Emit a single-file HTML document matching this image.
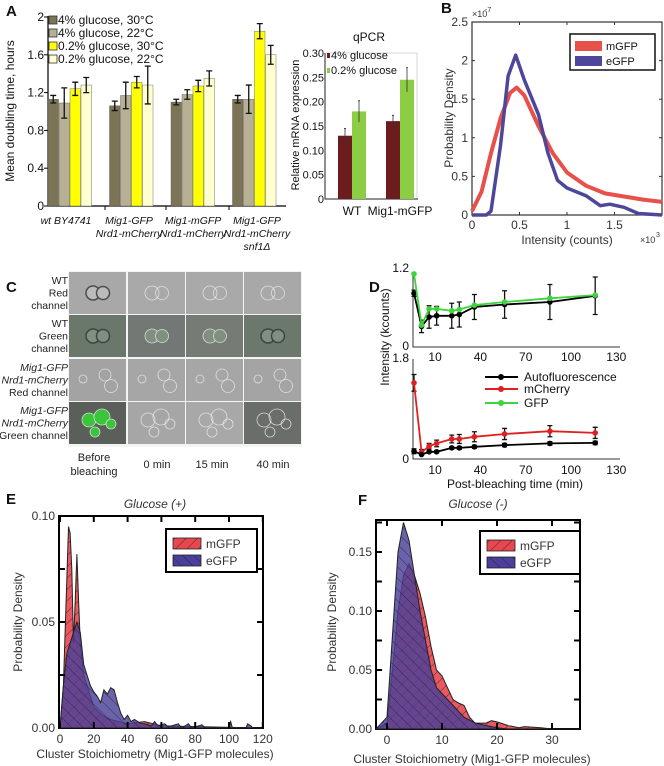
<!DOCTYPE html>
<html><head><meta charset="utf-8">
<style>
html,body{margin:0;padding:0;background:#fff;}
svg{display:block;font-family:"Liberation Sans",Arial,sans-serif;}
</style></head>
<body>
<svg id="fig" width="664" height="766" viewBox="0 0 664 766" xmlns="http://www.w3.org/2000/svg">
<defs>
<pattern id="hatchR" patternUnits="userSpaceOnUse" width="8" height="8" patternTransform="rotate(45)"><line x1="0" y1="0" x2="0" y2="8" stroke="#222" stroke-width="0.8"/></pattern>
<pattern id="hatchB" patternUnits="userSpaceOnUse" width="8" height="8" patternTransform="rotate(-45)"><line x1="0" y1="0" x2="0" y2="8" stroke="#222" stroke-width="0.8"/></pattern>
</defs>
</svg>
<script>
// ---------- Panel A data ----------
const aGroups = ["wt BY4741","Mig1-GFP Nrd1-mCherry","Mig1-mGFP Nrd1-mCherry","Mig1-GFP Nrd1-mCherry snf1\u0394"];
const aSeries = ["4% glucose, 30\u00b0C","4% glucose, 22\u00b0C","0.2% glucose, 30\u00b0C","0.2% glucose, 22\u00b0C"];
const aVal4_30 = [1.13,1.06,1.10,1.13];
const aVal4_22 = [1.09,1.17,1.18,1.13];
const aVal02_30 = [1.24,1.31,1.27,1.85];
const aVal02_22 = [1.28,1.28,1.35,1.60];
const aErr4_30 = [0.04,0.05,0.03,0.04];
const aErr4_22 = [0.16,0.14,0.05,0.15];
const aErr02_30 = [0.07,0.06,0.06,0.08];
const aErr02_22 = [0.08,0.20,0.08,0.10];
const aTicks = [0,0.4,0.8,1.2,1.6,2];
// ---------- qPCR data ----------
const qCats = ["WT","Mig1-mGFP"];
const q4 = [0.13,0.16];
const q02 = [0.18,0.245];
const q4err = [0.015,0.012];
const q02err = [0.022,0.025];
const qTicks = [0,0.05,0.10,0.15,0.20,0.25,0.30];
// ---------- Panel B data ----------
const bmX = [0,0.1,0.2,0.3,0.4,0.47,0.55,0.7,0.85,1.0,1.2,1.4,1.6,1.8,2.0];
const bmY = [0.05,0.3,0.8,1.25,1.58,1.65,1.55,1.15,0.8,0.55,0.38,0.28,0.24,0.2,0.17];
const beX = [0,0.15,0.2,0.3,0.38,0.46,0.55,0.7,0.8,0.9,1.0,1.2,1.35,1.45,1.6,1.75,2.0];
const beY = [0,0,0.05,0.9,1.8,2.07,1.75,1.3,0.8,0.45,0.35,0.25,0.12,0.14,0.1,0.02,0];
const bXTicks = [0,0.5,1,1.5];
const bYTicks = [0,0.5,1,1.5,2,2.5];
// ---------- Panel D data ----------
const dTimes = [0,5,10,15,25,30,40,60,90,120];
const dUpGFP = [1.17,0.35,0.61,0.61,0.58,0.60,0.67,0.72,0.78,0.83];
const dUpAuto = [0.86,0.33,0.48,0.50,0.50,0.52,0.64,0.68,0.72,0.82];
const dUpErr = [0.05,0.1,0.18,0.15,0.2,0.2,0.2,0.22,0.28,0.3];
const dLoCherry = [1.37,0.12,0.23,0.28,0.36,0.36,0.40,0.45,0.50,0.47];
const dLoAuto = [0.14,0.08,0.13,0.13,0.20,0.20,0.22,0.25,0.28,0.29];
const dLoErr = [0.15,0.05,0.05,0.06,0.07,0.08,0.09,0.1,0.1,0.1];
const dXTicks = [10,40,70,100,130];
// ---------- Panel E data ----------
const emX = [0,2,4,5,6,7,8,9,10,11,12,14,16,20,25,30,40,50,60,120];
const emY = [0,0.02,0.07,0.095,0.092,0.075,0.04,0.06,0.082,0.06,0.04,0.025,0.02,0.01,0.006,0.004,0.002,0.003,0.001,0];
const eeX = [0,2,4,6,8,10,12,14,16,18,20,22,24,26,28,30,32,34,36,38,40,42,44,46,48,50,54,56,58,62,64,70,72,76,78,84,86,100,101,102,110,111,113,114,120];
const eeY = [0,0.02,0.035,0.04,0.045,0.05,0.045,0.03,0.025,0.02,0.017,0.015,0.012,0.018,0.016,0.019,0.018,0.012,0.007,0.004,0.006,0.003,0.004,0.003,0.002,0.002,0.001,0.003,0.001,0.002,0.0005,0.002,0,0.002,0,0.0015,0,0,0.003,0,0,0.002,0.001,0,0];
const eXTicks = [0,20,40,60,80,100,120];
const eYTicks = [0,0.05,0.10];
// ---------- Panel F data ----------
const feX = [-2,0,1,2,3,4,5,6,7,8,9,10,12,14,16,18,20,22,35];
const feY = [0,0.01,0.08,0.15,0.175,0.16,0.13,0.1,0.075,0.05,0.035,0.03,0.02,0.01,0.005,0.003,0.001,0,0];
const fmX = [-2,0,1,2,3,4,5,6,7,8,9,10,11,12,13,14,15,16,18,19,20,22,24,25,28,30,35];
const fmY = [0,0.005,0.05,0.1,0.13,0.14,0.13,0.115,0.095,0.07,0.05,0.045,0.035,0.025,0.022,0.02,0.01,0.005,0.005,0.007,0.006,0.003,0.001,0.002,0.001,0,0];
const fXTicks = [0,10,20,30];
const fYTicks = [0,0.05,0.10,0.15];

const NS = "http://www.w3.org/2000/svg";
const svg = document.getElementById('fig');
function mk(tag, attrs, parent){
  const el = document.createElementNS(NS, tag);
  for (const k in attrs) el.setAttribute(k, attrs[k]);
  (parent||svg).appendChild(el);
  return el;
}
function txt(s, x, y, size, parent, extra){
  const a = {x:x, y:y, 'font-size':size, fill:'#111'};
  if (extra) for (const k in extra) a[k]=extra[k];
  const t = mk('text', a, parent);
  t.textContent = s;
  return t;
}
function grp(){ return mk('g', {}); }
let el;

// ================= PANEL A =================
const gA = grp();


el = txt('A', 6, 16, 15, gA, {'font-weight':'bold'});


const yA = v => 206 - v*94.5;
el = mk('line', {x1:48, y1:16, x2:48, y2:206, stroke:'#000', 'stroke-width':1.2}, gA);


el = mk('line', {x1:48, y1:206, x2:286, y2:206, stroke:'#000', 'stroke-width':1.2}, gA);


aTicks.forEach(v => {
  const t = txt(String(v), 44, yA(v)+4, 12, gA, {'text-anchor':'end'});
  
  
  const l = mk('line', {x1:44, y1:yA(v), x2:48, y2:yA(v), stroke:'#000'}, gA);
  
  
});
[109,170,233].forEach(x => {
  const l = mk('line', {x1:x-4, y1:206, x2:x-4, y2:210, stroke:'#000'}, gA);
  
  
});
el = txt('Mean doubling time, hours', 14, 111, 12, gA, {'text-anchor':'middle', transform:'rotate(-90 14 111)'});


const aColors = ['#7c7456','#b8b095','#ffff00','#ffffd0'];
const aVals = [aVal4_30, aVal4_22, aVal02_30, aVal02_22];
const aErrs = [aErr4_30, aErr4_22, aErr02_30, aErr02_22];
const aGroupX = i => 48 + i*61.5;
aGroups.forEach((g, gi) => {
  aVals.forEach((ser, si) => {
    const x = aGroupX(gi) + si*11;
    const v = ser[gi], e = aErrs[si][gi];
    const b = mk('rect', {x:x, y:yA(v), width:10.5, height:yA(0)-yA(v), fill:aColors[si], stroke:'#555', 'stroke-width':0.4}, gA);
    
    
    const cx = x+5.25;
    const eb = mk('path', {d:`M${cx} ${yA(v+e)}V${yA(v-e)}M${cx-3} ${yA(v+e)}H${cx+3}M${cx-3} ${yA(v-e)}H${cx+3}`, stroke:'#111', 'stroke-width':1.3, fill:'none'}, gA);
    
    
  });
});
const aLabelLines = [["wt BY4741"],["Mig1-GFP","Nrd1-mCherry"],["Mig1-mGFP","Nrd1-mCherry"],["Mig1-GFP","Nrd1-mCherry","snf1\u0394"]];
const aLabelCx = [66,129,193,257];
aLabelLines.forEach((lines, i) => {
  lines.forEach((s, j) => {
    const t = txt(s, aLabelCx[i], 224 + j*13, 10.5, gA, {'text-anchor':'middle','font-style':'italic'});
    
    
  });
});
aSeries.forEach((s, i) => {
  const y = 14 + i*13;
  const r = mk('rect', {x:49, y:y+2, width:8, height:8, fill:aColors[i], stroke:'#333', 'stroke-width':0.8}, gA);
  
  
  const t = txt(s, 58, y+10, 12, gA);
  
  
});

// ================= qPCR =================
const gQ = grp();


const yQ = v => 199 - v*486.7;
el = txt('qPCR', 369, 41, 12, gQ, {'text-anchor':'middle'});


el = mk('rect', {x:325, y:yQ(0.30), width:92, height:yQ(0)-yQ(0.30), fill:'none', stroke:'#bbb', 'stroke-width':0.6}, gQ);


el = mk('path', {d:`M325 ${yQ(0.30)}V199H418`, stroke:'#222', 'stroke-width':1, fill:'none'}, gQ);


qTicks.forEach(v => {
  const t = txt(v===0?'0':v.toFixed(2), 324, yQ(v)+4, 11, gQ, {'text-anchor':'end'});
  
  
});
el = txt('Relative mRNA expression', 299, 125, 11, gQ, {'text-anchor':'middle', transform:'rotate(-90 299 125)'});


const qX = [338,386];
qCats.forEach((c, i) => {
  const b1 = mk('rect', {x:qX[i], y:yQ(q4[i]), width:14, height:yQ(0)-yQ(q4[i]), fill:'#6b1d1d'}, gQ);
  
  
  const b2 = mk('rect', {x:qX[i]+14, y:yQ(q02[i]), width:14, height:yQ(0)-yQ(q02[i]), fill:'#8ccd45'}, gQ);
  
  
  const e1 = mk('path', {d:`M${qX[i]+7} ${yQ(q4[i]+q4err[i])}v${q4err[i]*2*486.7}M${qX[i]+6} ${yQ(q4[i]+q4err[i])}h2`, stroke:'#333', 'stroke-width':0.8}, gQ);
  
  
  const e2 = mk('path', {d:`M${qX[i]+21} ${yQ(q02[i]+q02err[i])}v${q02err[i]*2*486.7}M${qX[i]+20} ${yQ(q02[i]+q02err[i])}h2`, stroke:'#333', 'stroke-width':0.8}, gQ);
  
  
  const t = txt(c, qX[i]+14, 215, 12, gQ, {'text-anchor':'middle'});
  
  
});
[['4% glucose','#6b1d1d',59],['0.2% glucose','#8ccd45',74]].forEach(l => {
  const r = mk('rect', {x:327, y:l[2]-6, width:3, height:5, fill:l[1]}, gQ);
  
  
  const t = txt(l[0], 331, l[2], 11, gQ);
  
  
});

// ================= PANEL B =================
const gB = grp();


el = txt('B', 441, 13, 15, gB, {'font-weight':'bold'});


const xB = v => 472 + v*95;
const yB = v => 215 - v*77.2;
el = mk('rect', {x:472, y:22, width:190, height:193, fill:'none', stroke:'#333', 'stroke-width':1.2}, gB);


bXTicks.forEach(v => {
  const t = txt(String(v), xB(v), 229, 12, gB, {'text-anchor':'middle', fill:'#333'});
  
  
  const l = mk('path', {d:`M${xB(v)} 215v-3M${xB(v)} 22v3`, stroke:'#333'}, gB);
  
  
});
bYTicks.forEach(v => {
  const t = txt(String(v), 468, yB(v)+4, 12, gB, {'text-anchor':'end', fill:'#333'});
  
  
  const l = mk('path', {d:`M472 ${yB(v)}h3M662 ${yB(v)}h-3`, stroke:'#333'}, gB);
  
  
});
el = txt('\u00d710', 472, 17, 9, gB, {fill:'#333'});


el = txt('-7', 485, 12, 7, gB, {fill:'#333'});


el = txt('\u00d710', 640, 243, 9, gB, {fill:'#333'});


el = txt('3', 656, 237, 7, gB, {fill:'#333'});


el = txt('Intensity (counts)', 567, 244, 12, gB, {'text-anchor':'middle', fill:'#333'});


el = txt('Probability Density', 453, 118, 12, gB, {'text-anchor':'middle', fill:'#333', transform:'rotate(-90 453 118)'});


const pathFrom = (xs, ys, fx, fy) => xs.map((x,i)=>(i?'L':'M')+fx(x).toFixed(1)+' '+fy(ys[i]).toFixed(1)).join('');
el = mk('path', {d:pathFrom(bmX,bmY,xB,yB), fill:'none', stroke:'#e8504a', 'stroke-width':4, 'stroke-linejoin':'round'}, gB);


el = mk('path', {d:pathFrom(beX,beY,xB,yB), fill:'none', stroke:'#4d469a', 'stroke-width':3.5, 'stroke-linejoin':'round'}, gB);


el = mk('rect', {x:570, y:34, width:85, height:36, fill:'#fff', stroke:'#111', 'stroke-width':1.5}, gB);


[['mGFP','#e8504a',46],['eGFP','#4d469a',61]].forEach(l => {
  const r = mk('rect', {x:575, y:l[2]-5, width:27, height:10, fill:l[1]}, gB);
  
  
  const t = txt(l[0], 606, l[2]+4, 11, gB);
  
  
});

// ================= PANEL C =================
const gC = grp();


el = txt('C', 6, 292, 15, gC, {'font-weight':'bold'});


const cRowY = [272,315,359,402];
const cColX = [69,128,186,244];
const cBg = [['#a8a8a8','#a9a9a9','#a9a9a9','#a8a8a8'],['#6c776c','#747874','#767b76','#6d786d'],['#a3a3a3','#a6a6a6','#a6a6a6','#a4a4a4'],['#5a5f5a','#a6a6a6','#a8a8a8','#6a6e6a']];
el = mk('rect', {x:68, y:271, width:234, height:176, fill:'#f4f4f4'}, gC);
cRowY.forEach((y, r) => {
  cColX.forEach((x, c) => {
    const cell = mk('rect', {x:x, y:y, width:57, height:42, fill:cBg[r][c]}, gC);
    
    
    const dark = (c===0 && r<2) || (r===1 && c===3);
    const sw = dark ? 1.5 : 0.8;
    const fillG = (r===3 && c===0) ? '#3cc43c' : (r===1 ? '#7f907f' : (r===0 && c===0 ? '#bbb' : 'none'));
    const cells = r<2 ? [[24,21,7],[34,21,6.5]] : (r===2 ? [[14,20,4],[36,16,6],[42,27,6.5]] : [[20,18,7],[33,15,8],[42,22,5],[26,30,5]]);
    cells.forEach(p => {
      const ci = mk('circle', {cx:x+p[0], cy:y+p[1], r:p[2], fill:fillG, stroke:dark?'#333':'#eee', 'stroke-width':sw, 'stroke-opacity':0.8}, gC);
      
      
    });
  });
});
const cRowLabels = [[['WT',false],['Red',false],['channel',false]],[['WT',false],['Green',false],['channel',false]],[['Mig1-GFP',true],['Nrd1-mCherry',true],['Red channel',false]],[['Mig1-GFP',true],['Nrd1-mCherry',true],['Green channel',false]]];
cRowLabels.forEach((lines, r) => {
  lines.forEach((l, j) => {
    const t = txt(l[0], 68, cRowY[r]+12+j*12.5, 10.5, gC, {'text-anchor':'end','font-style':l[1]?'italic':'normal', fill:'#222'});
    
    
  });
});
[['Before',94,461],['bleaching',94,475],['0 min',157,468],['15 min',212,468],['40 min',273,468]].forEach(l => {
  const t = txt(l[0], l[1], l[2], 11, gC, {'text-anchor':'middle', fill:'#222'});
  
  
});

// ================= PANEL D =================
const gD = grp();


el = txt('D', 369, 292, 15, gD, {'font-weight':'bold'});


const xD = t => 414 + t*1.51;
const yDu = v => 347 - v*62.5;
const yDl = v => 459 - v*55.6;
el = mk('path', {d:'M413 272V347H620M413 359V459H620', stroke:'#333', fill:'none', 'stroke-width':1}, gD);


[['1.2',272],['0',350],['1.8',362],['0',463]].forEach(l => {
  const t = txt(l[0], 409, l[1], 12, gD, {'text-anchor':'end'});
  
  
});
dXTicks.forEach(v => {
  const t1 = txt(String(v), xD(v)+6, 361, 12, gD, {'text-anchor':'middle'});
  
  
  const t2 = txt(String(v), xD(v)+6, 474, 12, gD, {'text-anchor':'middle'});
  
  
});
el = txt('Post-bleaching time (min)', 515, 488, 12, gD, {'text-anchor':'middle'});


el = txt('Intensity (kcounts)', 389, 337, 12, gD, {'text-anchor':'middle', transform:'rotate(-90 389 337)'});


function dSeries(vals, errs, yf, color, name){
  dTimes.forEach((t,i) => {
    const x = xD(t), v = vals[i], e = errs[i];
    const eb = mk('path', {d:`M${x} ${yf(v+e)}V${yf(Math.max(0,v-e))}M${x-2.5} ${yf(v+e)}h5M${x-2.5} ${yf(Math.max(0,v-e))}h5`, stroke:'#111', 'stroke-width':1.3}, gD);
    
    
  });
  const p = mk('path', {d:pathFrom(dTimes, vals, xD, yf), stroke:color, 'stroke-width':1.8, fill:'none'}, gD);
  
  
  dTimes.forEach((t,i) => {
    const c = mk('circle', {cx:xD(t), cy:yf(vals[i]), r:2.8, fill:color}, gD);
    
    
  });
}
dSeries(dUpAuto, dUpErr, yDu, '#000', 'd-upper-autofluorescence');
dSeries(dUpGFP, dUpErr.map(()=>0), yDu, '#3dd43d', 'd-upper-gfp');
dSeries(dLoCherry, dLoErr, yDl, '#e02020', 'd-lower-mcherry');
dSeries(dLoAuto, dLoErr.map(e=>e*0.3), yDl, '#000', 'd-lower-autofluorescence');
[['Autofluorescence','#000',377],['mCherry','#e02020',389],['GFP','#3dd43d',403]].forEach(l => {
  const ln = mk('line', {x1:485, y1:l[2], x2:518, y2:l[2], stroke:l[1], 'stroke-width':2}, gD);
  
  
  const c = mk('circle', {cx:501, cy:l[2], r:3, fill:l[1]}, gD);
  
  
  const t = txt(l[0], 524, l[2]+4, 12, gD);
  
  
});

// ================= PANELS E & F =================
function areaPath(xs, ys, fx, fy){
  return pathFrom(xs, ys, fx, fy) + `L${fx(xs[xs.length-1])} ${fy(0)}L${fx(xs[0])} ${fy(0)}Z`;
}
function densityPanel(g, pfx, fx, fy, box, xt, yt, ytFmt, redX, redY, blueX, blueY, legend, minorY){
  const fr = mk('rect', {x:box[0], y:box[1], width:box[2]-box[0], height:box[3]-box[1], fill:'none', stroke:'#000', 'stroke-width':2}, g);
  
  
  const red = mk('path', {d:areaPath(redX, redY, fx, fy), fill:'#e8474f', 'fill-opacity':0.9, stroke:'#222', 'stroke-width':1}, g);
  
  
  const redH = mk('path', {d:areaPath(redX, redY, fx, fy), fill:'url(#hatchR)', stroke:'none'}, g);
  
  
  const blue = mk('path', {d:areaPath(blueX, blueY, fx, fy), fill:'#4a3f9a', 'fill-opacity':0.82, stroke:'#222', 'stroke-width':1}, g);
  
  
  const blueH = mk('path', {d:areaPath(blueX, blueY, fx, fy), fill:'url(#hatchB)', stroke:'none'}, g);
  
  
  xt.forEach(v => {
    const t = txt(String(v), fx(v), box[3]+15, 12, g, {'text-anchor':'middle', fill:'#333'});
    
    
    const l = mk('path', {d:`M${fx(v)} ${box[3]}v-6M${fx(v)} ${box[1]}v6`, stroke:'#000', 'stroke-width':2}, g);
    
    
  });
  yt.forEach(v => {
    const t = txt(ytFmt(v), box[0]-4, fy(v)+4, 12, g, {'text-anchor':'end', fill:'#333'});
    
    
  });
  minorY.forEach(v => {
    const l = mk('path', {d:`M${box[0]} ${fy(v)}h6M${box[2]} ${fy(v)}h-6`, stroke:'#000', 'stroke-width':2}, g);
    
    
  });
  const lb = mk('rect', {x:legend[0], y:legend[1], width:legend[2], height:43, fill:'#fff', stroke:'#000', 'stroke-width':2}, g);
  
  
  [['mGFP','#e8474f','url(#hatchR)',legend[1]+14],['eGFP','#4a3f9a','url(#hatchB)',legend[1]+31]].forEach(l => {
    const r = mk('rect', {x:legend[0]+7, y:l[3]-5, width:28, height:11, fill:l[1], stroke:'#222', 'stroke-width':0.8}, g);
    
    
    mk('rect', {x:legend[0]+7, y:l[3]-5, width:28, height:11, fill:l[2]}, g);
    const t = txt(l[0], legend[0]+40, l[3]+5, 12, g, {fill:'#333'});
    
    
  });
}
const gE = grp();


el = txt('E', 6, 504, 15, gE, {'font-weight':'bold'});


el = txt('Glucose (+)', 155, 508, 12, gE, {'text-anchor':'middle','font-style':'italic', fill:'#333'});


const xE = v => 60 + v*1.69;
const yE = v => 728 - v*2120;
densityPanel(gE, 'e', xE, yE, [59,516,263,728], eXTicks, eYTicks, v=>v.toFixed(2), emX, emY, eeX, eeY, [166,529,91], [0.025,0.05,0.075]);
el = txt('Cluster Stoichiometry (Mig1-GFP molecules)', 155, 758, 12, gE, {'text-anchor':'middle', fill:'#333'});


el = txt('Probability Density', 22, 622, 12, gE, {'text-anchor':'middle', fill:'#333', transform:'rotate(-90 22 622)'});



const gF = grp();


el = txt('F', 358, 505, 15, gF, {'font-weight':'bold'});


el = txt('Glucose (-)', 478, 508, 12, gF, {'text-anchor':'middle','font-style':'italic', fill:'#333'});


const xF = v => 387 + v*5.5;
const yF = v => 729 - v*1180;
densityPanel(gF, 'f', xF, yF, [376,520,580,729], fXTicks, fYTicks, v=>v.toFixed(2), fmX, fmY, feX, feY, [480,531,100], [0.025,0.05,0.075,0.10,0.125,0.15,0.175]);
el = txt('Cluster Stoichiometry (Mig1-GFP molecules)', 472, 763, 12, gF, {'text-anchor':'middle', fill:'#333'});


el = txt('Probability Density', 336, 622, 12, gF, {'text-anchor':'middle', fill:'#333', transform:'rotate(-90 336 622)'});


</script>
</body></html>
